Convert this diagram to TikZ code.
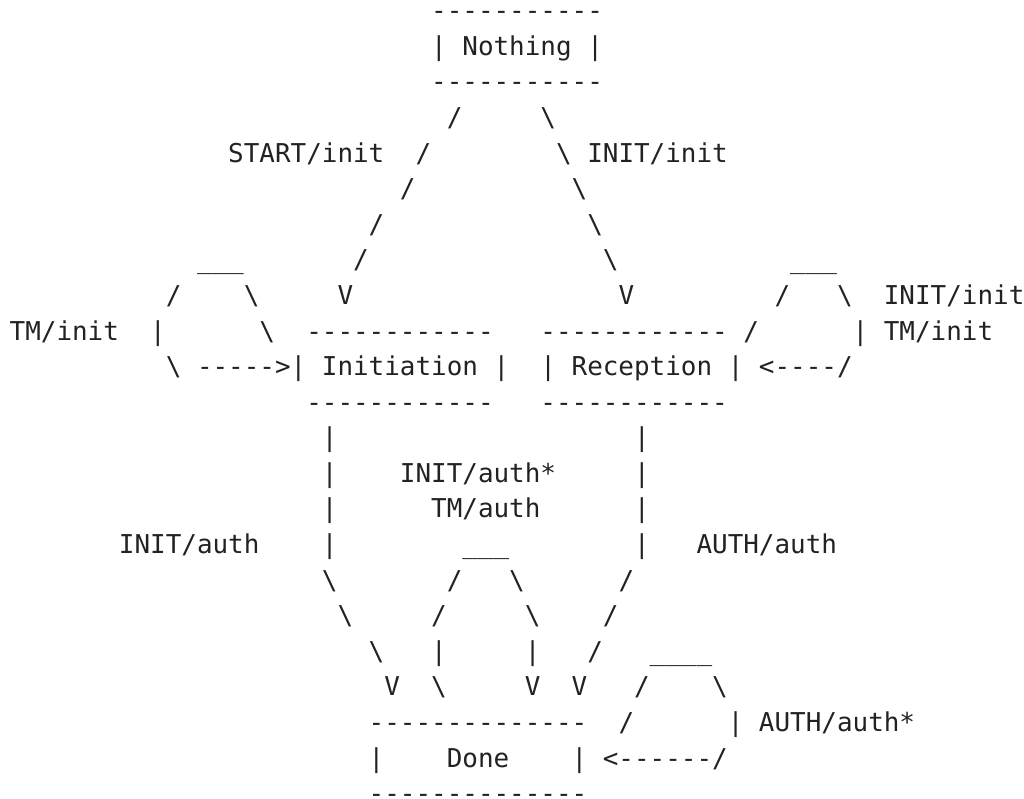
\documentclass[tikz,border=0pt]{standalone}
\usepackage{fontspec}
\newfontfamily\asciimono{DejaVu Sans Mono}
\definecolor{asciiink}{HTML}{222222}

% helpers for characters that need care in text
\newcommand\bsl{\textbackslash}
\newcommand\usc{\textunderscore}
% a run of hyphens, each boxed so that no dash ligature forms
\newcount\dashcnt
\newcommand\dashrun[1]{\dashcnt=#1\relax\loop\hbox{-}\advance\dashcnt by -1\relax\ifnum\dashcnt>0 \repeat}

\tikzset{
  asciitext/.style={font=\asciimono\fontsize{25.93}{25.93}\selectfont,
    text=asciiink, anchor=base west, inner sep=0pt, outer sep=0pt}
}
% one token of the character grid: row, column, text
\newcommand\tok[3]{\node[asciitext] (t#1x#2) at ({9.7+15.61*#2},{19.7+35.59*(#1-1)}) {#3};}

\begin{document}
\begin{tikzpicture}[x=1pt,y=-1pt]
\useasboundingbox (0,0) rectangle (1024,799);
\fill[white] (0,0) rectangle (1024,799);

% Nothing
\tok{1}{27}{\dashrun{11}}
\tok{2}{27}{|} \tok{2}{29}{Nothing} \tok{2}{37}{|}
\tok{3}{27}{\dashrun{11}}

% branches down to Initiation and Reception
\tok{4}{28}{/} \tok{4}{34}{\bsl}
\tok{5}{14}{START/init} \tok{5}{26}{/} \tok{5}{35}{\bsl} \tok{5}{37}{INIT/init}
\tok{6}{25}{/} \tok{6}{36}{\bsl}
\tok{7}{23}{/} \tok{7}{37}{\bsl}
\tok{8}{12}{\usc\usc\usc} \tok{8}{22}{/} \tok{8}{38}{\bsl} \tok{8}{50}{\usc\usc\usc}
\tok{9}{10}{/} \tok{9}{15}{\bsl} \tok{9}{21}{V} \tok{9}{39}{V} \tok{9}{49}{/} \tok{9}{53}{\bsl} \tok{9}{56}{INIT/init}

% Initiation and Reception with their self loops
\tok{10}{0}{TM/init} \tok{10}{9}{|} \tok{10}{16}{\bsl} \tok{10}{19}{\dashrun{12}}
\tok{10}{34}{\dashrun{12}} \tok{10}{47}{/} \tok{10}{54}{|} \tok{10}{56}{TM/init}
\tok{11}{10}{\bsl} \tok{11}{12}{\dashrun{5}>|} \tok{11}{20}{Initiation} \tok{11}{31}{|}
\tok{11}{34}{|} \tok{11}{36}{Reception} \tok{11}{46}{|} \tok{11}{48}{<\dashrun{4}/}
\tok{12}{19}{\dashrun{12}} \tok{12}{34}{\dashrun{12}}

% transitions down to Done
\tok{13}{20}{|} \tok{13}{40}{|}
\tok{14}{20}{|} \tok{14}{25}{INIT/auth*} \tok{14}{40}{|}
\tok{15}{20}{|} \tok{15}{27}{TM/auth} \tok{15}{40}{|}
\tok{16}{7}{INIT/auth} \tok{16}{20}{|} \tok{16}{29}{\usc\usc\usc} \tok{16}{40}{|} \tok{16}{44}{AUTH/auth}
\tok{17}{20}{\bsl} \tok{17}{28}{/} \tok{17}{32}{\bsl} \tok{17}{39}{/}
\tok{18}{21}{\bsl} \tok{18}{27}{/} \tok{18}{33}{\bsl} \tok{18}{38}{/}
\tok{19}{23}{\bsl} \tok{19}{27}{|} \tok{19}{33}{|} \tok{19}{37}{/} \tok{19}{41}{\usc\usc\usc\usc}
\tok{20}{24}{V} \tok{20}{27}{\bsl} \tok{20}{33}{V} \tok{20}{36}{V} \tok{20}{40}{/} \tok{20}{45}{\bsl}

% Done with its self loop
\tok{21}{23}{\dashrun{14}} \tok{21}{39}{/} \tok{21}{46}{|} \tok{21}{48}{AUTH/auth*}
\tok{22}{23}{|} \tok{22}{28}{Done} \tok{22}{36}{|} \tok{22}{38}{<\dashrun{6}/}
\tok{23}{23}{\dashrun{14}}
\end{tikzpicture}
\end{document}
